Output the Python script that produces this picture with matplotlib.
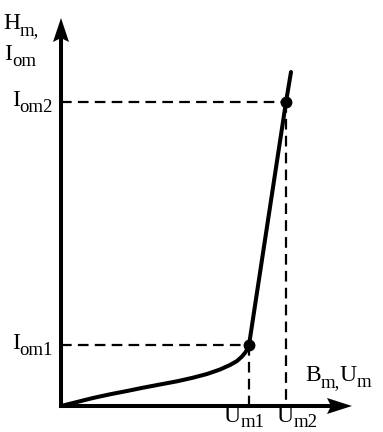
import matplotlib
matplotlib.use("Agg")
import matplotlib.pyplot as plt
from matplotlib.transforms import offset_copy

plt.rcParams['font.family'] = ['Liberation Serif', 'DejaVu Serif']

# ---- data (arbitrary units) ----
curve_x = [0, 16, 32, 49, 66, 82, 99, 116, 132, 146, 159, 169,
           176, 181, 184.3, 186.8, 188, 225, 230]
curve_y = [0, 4, 8, 11.7, 15, 18.3, 21.5, 24.7, 28.3, 32, 36.5, 41,
           45, 49.5, 53.5, 57.5, 61, 304, 334]
Um1, Um2 = 188, 225
Iom1, Iom2 = 61, 304
marked_x = [Um1, Um2]
marked_y = [Iom1, Iom2]
y_labels = [('I', 'om1'), ('I', 'om2')]
x_labels = [('U', 'm1'), ('U', 'm2')]
x_label_shift = [-26, -10]

W, H = 383, 432
fig = plt.figure(figsize=(W / 100, H / 100), dpi=100)
ax = fig.add_axes([0, 0, 1, 1])
ax.set_xlim(-61, W - 61)
ax.set_ylim(-(H - 406), 406)
ax.axis('off')

lw_axis = 2.9
ax.plot([0, 0], [0, 368], color='black', lw=lw_axis, solid_capstyle='projecting')
ax.plot([0, 268], [0, 0], color='black', lw=lw_axis, solid_capstyle='projecting')
ax.fill([-8, 0, 8, 0], [364, 388, 364, 368], color='black', lw=0)
ax.fill([266, 291, 266, 270], [-8, 0, 8, 0], color='black', lw=0)

dash = (0, (4.8, 2.8))
for xv, yv in zip(marked_x, marked_y):
    ax.plot([0, xv], [yv, yv], color='black', lw=1.6, linestyle=dash)
    ax.plot([xv, xv], [yv, 0], color='black', lw=1.6, linestyle=dash)

ax.plot(curve_x, curve_y, color='black', lw=2.9, solid_capstyle='round',
        solid_joinstyle='round')
ax.plot(marked_x, marked_y, 'o', color='black', markersize=7.5)

FS_MAIN = 17
FS_SUB = 13.5
DROP = 4.5  # points
renderer = fig.canvas.get_renderer()


def sub_label(x, y, parts, ha='left', drop=DROP):
    """parts: list of (text, is_sub). Baseline-anchored at data (x, y)."""
    texts = []
    widths = []
    for s, is_sub in parts:
        t = ax.text(x, y, s, fontsize=FS_SUB if is_sub else FS_MAIN,
                    ha='left', va='baseline')
        widths.append(t.get_window_extent(renderer).width)
        texts.append(t)
    total = sum(widths)
    cur = 0 if ha == 'left' else -total
    for t, w, (s, is_sub) in zip(texts, widths, parts):
        tr = offset_copy(ax.transData, fig=fig, x=cur * 72 / fig.dpi,
                         y=-drop if is_sub else 0, units='points')
        t.set_transform(tr)
        cur += w


sub_label(-58, 377, [('H', False), ('m,', True)])
sub_label(-57, 346, [('I', False), ('om', True)])
sub_label(244, 25, [('B', False), ('m,', True), ('U', False), ('m', True)])

for yv, (a, b) in zip(marked_y, y_labels):
    sub_label(-8, yv - 4, [(a, False), (b, True)], ha='right')
for xv, sh, (a, b) in zip(marked_x, x_label_shift, x_labels):
    sub_label(xv + sh, -16, [(a, False), (b, True)], drop=3.5)

fig.savefig('out.png', dpi=100)
